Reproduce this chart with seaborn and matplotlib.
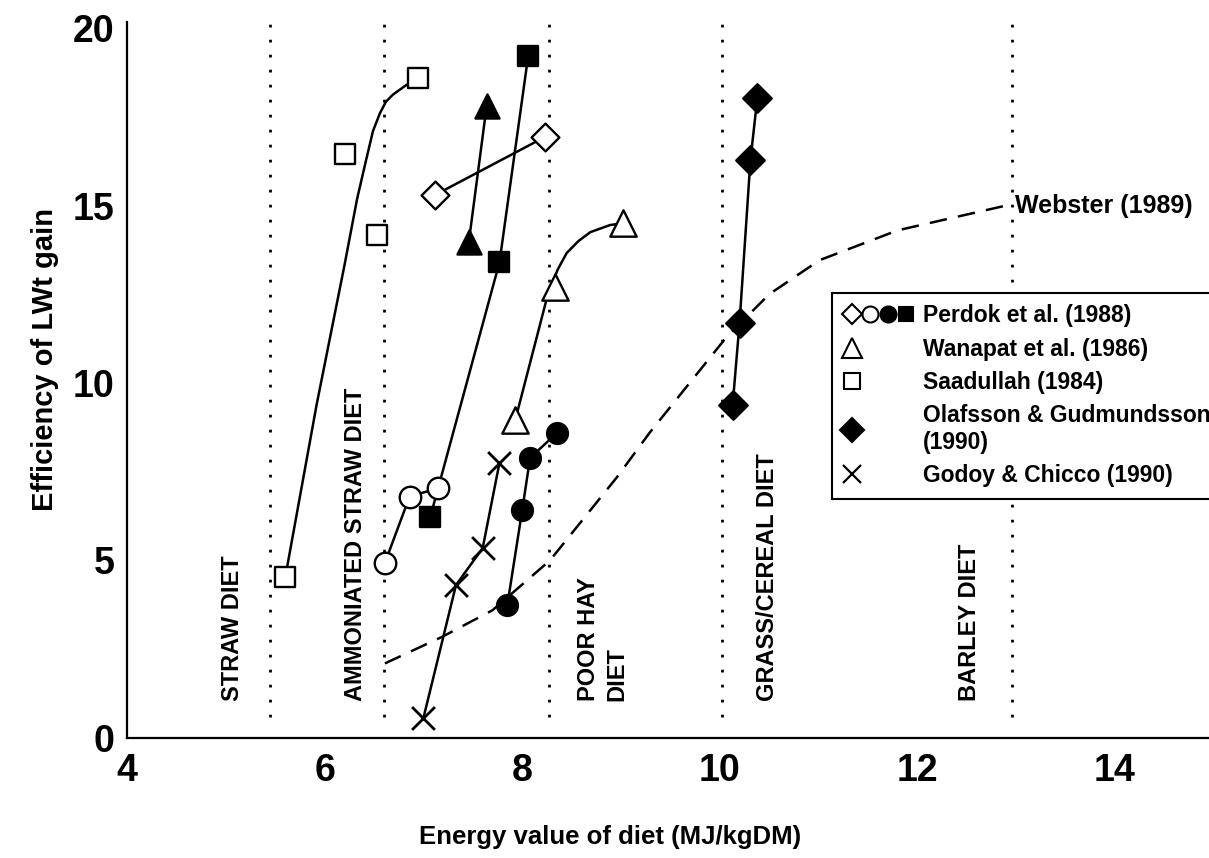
import matplotlib
matplotlib.use("Agg")
import matplotlib.pyplot as plt
import seaborn as sns
from matplotlib.lines import Line2D
from matplotlib.legend_handler import HandlerTuple

# ---------------- data ----------------
saad_x = [5.60, 6.21, 6.53, 6.95]
saad_y = [4.54, 16.45, 14.17, 18.60]
saad_fit_x = [5.60, 5.92, 6.20, 6.33, 6.42, 6.49, 6.56, 6.62, 6.69, 6.83, 6.95]
saad_fit_y = [4.50, 9.40, 13.30, 15.20, 16.28, 17.10, 17.60, 17.92, 18.12, 18.40, 18.60]

perdok_diam_x = [7.12, 8.23]
perdok_diam_y = [15.30, 16.93]
perdok_ocirc_x = [6.61, 6.86, 7.15]
perdok_ocirc_y = [4.93, 6.80, 7.04]
perdok_fcirc_x = [7.85, 8.00, 8.08, 8.35]
perdok_fcirc_y = [3.75, 6.42, 7.89, 8.59]
perdok_fsq_x = [7.07, 7.77, 8.06]
perdok_fsq_y = [6.23, 13.40, 19.20]

ftri_x = [7.46, 7.64]
ftri_y = [13.98, 17.80]

wanapat_x = [7.93, 8.33, 9.02]
wanapat_y = [8.96, 12.70, 14.50]
wanapat_fit_x = [7.93, 8.26, 8.36, 8.45, 8.57, 8.69, 8.89, 9.02]
wanapat_fit_y = [8.96, 12.50, 13.20, 13.66, 14.00, 14.25, 14.45, 14.50]

olafsson_x = [10.13, 10.20, 10.31, 10.38]
olafsson_y = [9.38, 11.70, 16.28, 18.03]

godoy_x = [7.00, 7.33, 7.60, 7.77]
godoy_y = [0.56, 4.31, 5.35, 7.75]

webster_x = [6.61, 7.19, 7.70, 8.28, 8.96, 9.29, 10.07, 10.50, 11.01, 11.80, 12.90]
webster_y = [2.10, 2.85, 3.60, 5.00, 7.35, 8.60, 11.30, 12.50, 13.46, 14.30, 15.00]

diet_line_x = [5.45, 6.60, 8.27, 10.02, 12.96]
diet_labels = ["STRAW DIET", "AMMONIATED STRAW DIET", "POOR HAY\nDIET",
               "GRASS/CEREAL DIET", "BARLEY DIET"]
diet_label_x = [5.07, 6.31, 8.81, 10.48, 12.53]

x_ticks = [4, 6, 8, 10, 12, 14]
y_ticks = [0, 5, 10, 15, 20]

legend_labels = ["Perdok et al. (1988)", "Wanapat et al. (1986)", "Saadullah (1984)",
                 "Olafsson & Gudmundsson\n(1990)", "Godoy & Chicco (1990)"]

# ---------------- style ----------------
sns.set_theme(style="white")
plt.rcParams['font.family'] = ['Liberation Sans', 'DejaVu Sans']
plt.rcParams['font.weight'] = 'bold'
plt.rcParams['axes.labelweight'] = 'bold'
plt.rcParams['text.color'] = 'black'
plt.rcParams['axes.labelcolor'] = 'black'
plt.rcParams['xtick.color'] = 'black'
plt.rcParams['ytick.color'] = 'black'

W, H = 1209, 858
fig = plt.figure(figsize=(W / 100, H / 100), dpi=100)
ax = fig.add_axes([127 / W, 1 - 738 / H, 1 - 127 / W, (738 - 22) / H])
ax.set_xlim(4, 4 + (W - 127) / 98.8)
ax.set_ylim(0, (738 - 22) / 35.5)

LW = 1.8
EW = 1.7

# diet boundary dotted lines
ax.vlines(diet_line_x, 0.6, 20.4, colors='black', linewidth=2.0,
          linestyles=[(0, (1, 4.4))], clip_on=False, zorder=1)
for lx, lab in zip(diet_label_x, diet_labels):
    ax.text(lx, 1.05, lab, rotation=90, ha='center', va='bottom', fontsize=17,
            fontweight='bold', color='black', linespacing=1.3, multialignment='left')

# connecting lines / fitted curves
def line(x, y, **kw):
    sns.lineplot(x=x, y=y, sort=False, estimator=None, color='black',
                 linewidth=LW, ax=ax, zorder=2, **kw)

line(saad_fit_x, saad_fit_y)
line(perdok_diam_x, perdok_diam_y)
line(perdok_ocirc_x, perdok_ocirc_y)
line(perdok_fcirc_x, perdok_fcirc_y)
line(perdok_fsq_x, perdok_fsq_y)
line(ftri_x, ftri_y)
line(wanapat_fit_x, wanapat_fit_y)
line(olafsson_x, olafsson_y)
line(godoy_x, godoy_y)
line(webster_x, webster_y, linestyle=(0, (7, 4.5)))

# markers
def pts(x, y, marker, s, filled):
    if marker == 'x':
        sns.scatterplot(x=x, y=y, marker='x', s=s, color='black', linewidth=2.0,
                        ax=ax, zorder=3)
    else:
        sns.scatterplot(x=x, y=y, marker=marker, s=s,
                        color='black' if filled else 'white',
                        edgecolor='black', linewidth=EW, ax=ax, zorder=3)

pts(saad_x, saad_y, 's', 210, False)
pts(perdok_diam_x, perdok_diam_y, 'D', 200, False)
pts(perdok_ocirc_x, perdok_ocirc_y, 'o', 240, False)
pts(perdok_fcirc_x, perdok_fcirc_y, 'o', 225, True)
pts(perdok_fsq_x, perdok_fsq_y, 's', 210, True)
pts(ftri_x, ftri_y, '^', 300, True)
pts(wanapat_x, wanapat_y, '^', 360, False)
pts(olafsson_x, olafsson_y, 'D', 210, True)
pts(godoy_x, godoy_y, 'x', 270, True)

ax.text(12.99, 15.0, "Webster (1989)", ha='left', va='center', fontsize=18,
        fontweight='bold', color='black')

# axes styling
ax.set_xticks(x_ticks)
ax.set_yticks(y_ticks)
ax.tick_params(axis='both', length=0, labelsize=27, colors='black')
ax.tick_params(axis='x', pad=11)
ax.tick_params(axis='y', pad=9)
for t in ax.get_xticklabels() + ax.get_yticklabels():
    t.set_fontweight('bold')
sns.despine(ax=ax)
for sp in ['left', 'bottom']:
    ax.spines[sp].set_color('black')
    ax.spines[sp].set_linewidth(1.6)

ax.set_xlabel("Energy value of diet (MJ/kgDM)", fontsize=18.5, fontweight='bold',
              color='black')
ax.set_ylabel("Efficiency of LWt gain", fontsize=21, fontweight='bold', color='black')
ax.xaxis.set_label_coords(0.4464, -0.1215)
ax.yaxis.set_label_coords(-0.0628, 0.528)

# legend
def mk(marker, filled, ms=12):
    if marker == 'x':
        return Line2D([], [], linestyle='none', marker='x', markersize=ms,
                      color='black', markeredgewidth=1.6)
    return Line2D([], [], linestyle='none', marker=marker, markersize=ms,
                  markerfacecolor='black' if filled else 'white',
                  markeredgecolor='black', markeredgewidth=1.5)

blank = Line2D([], [], linestyle='none', marker='')
handles = [
    (mk('D', False, 10), mk('o', False, 11.5), mk('o', True, 11.5), mk('s', True, 9.5)),
    (mk('^', False, 14), blank, blank, blank),
    (mk('s', False, 12), blank, blank, blank),
    (mk('D', True, 12), blank, blank, blank),
    (mk('x', True, 13), blank, blank, blank),
]
leg = ax.legend(handles, legend_labels, loc='upper left',
                bbox_to_anchor=(832 / W, 1 - 293 / H), bbox_transform=fig.transFigure,
                handler_map={tuple: HandlerTuple(ndivide=None, pad=0.0)},
                fontsize=16.5, handlelength=3.1, handletextpad=0.35, borderpad=0.5,
                labelspacing=0.45, borderaxespad=0, frameon=True, fancybox=False,
                framealpha=1, edgecolor='black')
leg.get_frame().set_linewidth(1.5)
for t in leg.get_texts():
    t.set_fontweight('bold')
    t.set_color('black')

fig.savefig("out.png", dpi=100)
